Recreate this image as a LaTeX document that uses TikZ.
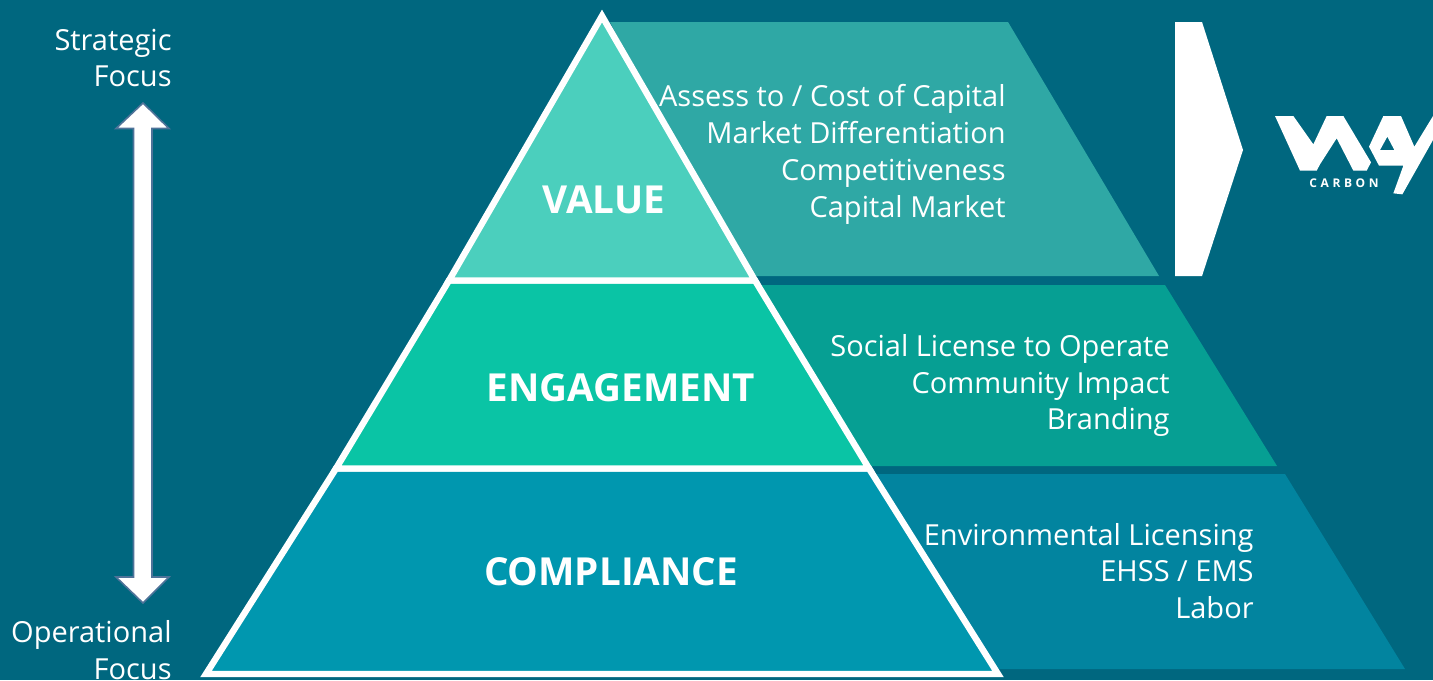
\documentclass[tikz,border=0pt]{standalone}
\usepackage{fontspec}
\setmainfont{Open Sans}
\usepackage{xcolor}
\definecolor{bgteal}{HTML}{00677F}
\definecolor{valuefill}{HTML}{4BCFBD}
\definecolor{engagefill}{HTML}{0AC4A5}
\definecolor{compfill}{HTML}{0097AF}
\definecolor{valueband}{HTML}{2FA8A5}
\definecolor{engageband}{HTML}{069F93}
\definecolor{compband}{HTML}{02849F}
\definecolor{arrowedge}{HTML}{4F7399}
\tikzset{
  layer/.style={draw=white,line width=3.2pt,miter limit=10},
  layerlabel/.style={text=white,font=\fontsize{19.3}{22}\selectfont\bfseries,inner sep=0pt},
  bandtext/.style={text=white,font=\fontsize{14.5}{18.4}\selectfont,align=right,anchor=east,inner sep=0pt},
}
\begin{document}
\begin{tikzpicture}[x=0.5pt,y=-0.5pt]
  \useasboundingbox (0,0) rectangle (1433,680);
  \fill[bgteal] (0,0) rectangle (1433,680);

  % Bands behind the pyramid
  \fill[valueband] (610,22)--(1008,22)--(1159,276)--(740,276)--cycle;
  \fill[engageband] (760,285)--(1165,285)--(1277,466)--(860,466)--cycle;
  \fill[compband] (870,474)--(1285,474)--(1405,669)--(990,669)--cycle;

  % Pyramid layers
  \coordinate (apex) at (602,16);
  \coordinate (valL) at (449,280.5);
  \coordinate (valR) at (755,280.5);
  \coordinate (engL) at (336,468.5);
  \coordinate (engR) at (869,468.5);
  \coordinate (comL) at (206,674);
  \coordinate (comR) at (998,674);
  \draw[layer,fill=compfill] (engL)--(engR)--(comR)--(comL)--cycle;
  \draw[layer,fill=engagefill] (valL)--(valR)--(engR)--(engL)--cycle;
  \draw[layer,fill=valuefill] (apex)--(valR)--(valL)--cycle;

  \node[layerlabel] (value) at (604,200) {VALUE};
  \node[layerlabel] (engagement) at (621,388) {ENGAGEMENT};
  \node[layerlabel] (compliance) at (611,572) {COMPLIANCE};

  % Band texts
  \node[bandtext] (valuelist) at (1006,154.5) {Assess to / Cost of Capital\\Market Differentiation\\Competitiveness\\Capital Market};
  \node[bandtext] (engagelist) at (1170,385.5) {Social License to Operate\\Community Impact\\Branding};
  \node[bandtext] (complist) at (1254,571) {Environmental Licensing\\EHSS / EMS\\Labor};

  % Focus axis
  \node[bandtext] (strategic) at (172,58) {Strategic\\Focus};
  \node[bandtext] (operational) at (172,650) {Operational\\Focus};
  \draw[fill=white,draw=arrowedge,line width=0.8pt]
    (143,103)--(169,128.5)--(152,128.5)--(152,577)--(169,577)--(143,603)
    --(116,577)--(133.5,577)--(133.5,128.5)--(116,128.5)--cycle;

  % Pointer to the logo
  \fill[white] (1175,22)--(1202,22)--(1243,150)--(1202,276)--(1175,276)--cycle;

  % Logo
  \begin{scope}[shift={(1265,105)},scale=1/3]
    \fill[white] (30,33)--(85,33)--(145,118)--(185,33)--(235,33)--(318,172)--(305,197)--(265,197)--(215,100)--(165,178)--(155,197)--(105,197)--cycle;
    \fill[white,even odd rule]
      (312,125)--(355,33)--(408,33)--(448,125)--(504,33)--(504,105)--(412,268)--(385,265)--(415,182)--(342,182)--(333,165)--cycle
      (367,95)--(388,135)--(345,135)--cycle;
    \node[text=white,font=\fontsize{6}{7}\selectfont\bfseries\addfontfeature{LetterSpace=30},inner sep=0pt] (carbon) at (237,236) {CARBON};
  \end{scope}
\end{tikzpicture}
\end{document}
